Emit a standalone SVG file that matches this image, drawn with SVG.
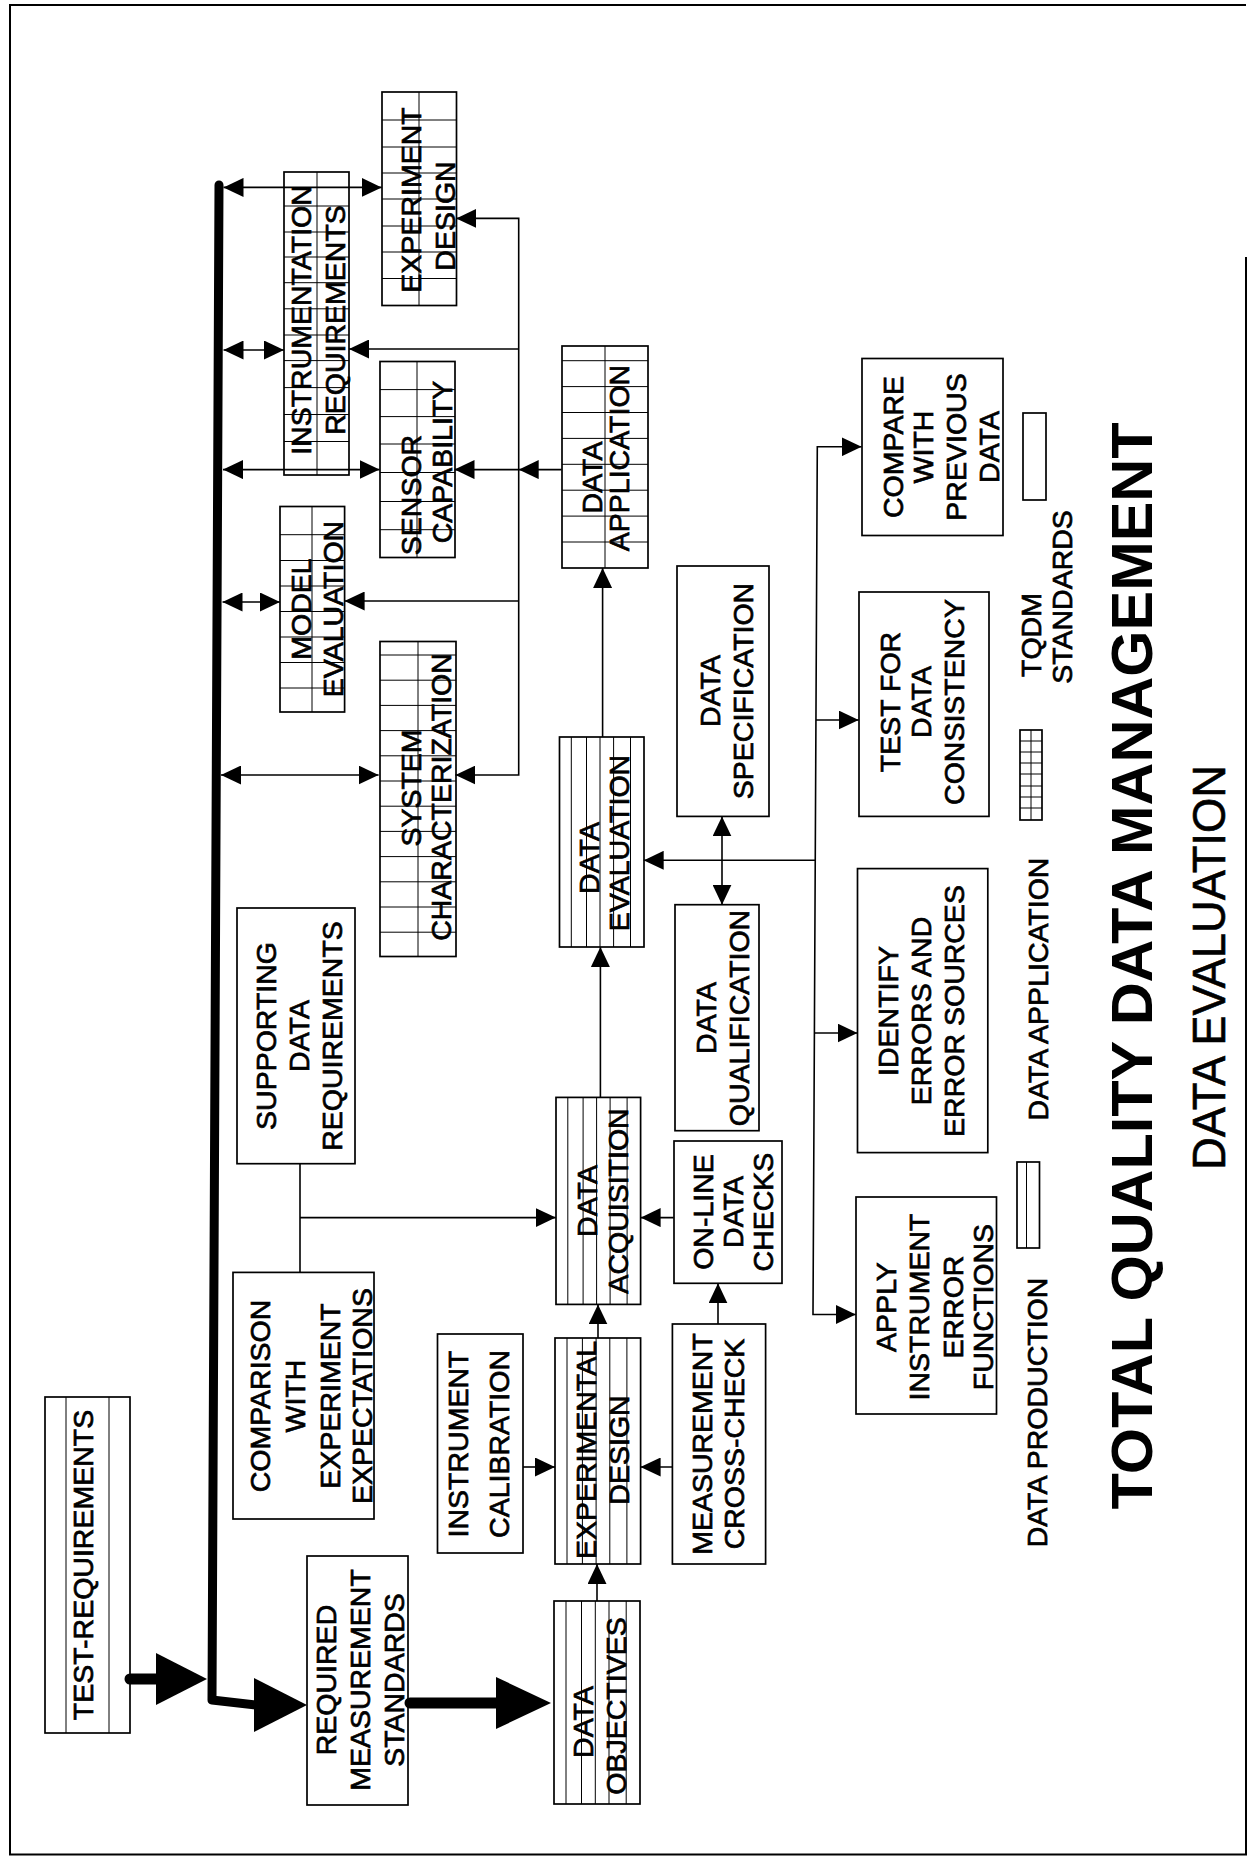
<svg xmlns="http://www.w3.org/2000/svg" width="1249" height="1860" viewBox="0 0 1249 1860">
  <style>
    .box { fill: none; stroke: #000; stroke-width: 1.7; }
    .cell { fill: none; stroke: #000; stroke-width: 1; }
    .ln { fill: none; stroke: #000; stroke-width: 1.6; }
    .thick { fill: none; stroke: #000; stroke-width: 11; stroke-linecap: round; stroke-linejoin: round; }
    .head { fill: #000; stroke: none; }
    .lbl { font-family: "Liberation Sans", Arial, Helvetica, sans-serif; font-size: 28.5px; fill: #000; stroke: #000; stroke-width: 0.7; text-anchor: middle; }
    .title { font-family: "Liberation Sans", Arial, Helvetica, sans-serif; font-weight: bold; font-size: 58px; fill: #000; text-anchor: middle; }
    .sub { font-family: "Liberation Sans", Arial, Helvetica, sans-serif; font-size: 46px; fill: #000; stroke: #000; stroke-width: 0.6; text-anchor: middle; }
  </style>
  <defs>
    <marker id="ah" viewBox="0 0 20 19" refX="20" refY="9.5" markerWidth="20" markerHeight="19" markerUnits="userSpaceOnUse" orient="auto-start-reverse">
      <path d="M0,0 L20,9.5 L0,19 z" fill="#000"/>
    </marker>
  </defs>

  <rect x="0" y="0" width="1249" height="1860" fill="#fff"/>
  <!-- page frame (right edge starts below the top corner) -->
  <path d="M1246,257 V1854.5 H10 V5 H1246" fill="none" stroke="#000" stroke-width="2"/>

  <!-- connectors -->
  <g id="connectors">
    <!-- main requirements bus -->
    <path class="thick" d="M219,185 L212,1700 L256,1705" style="stroke-width:9"/>
    <polygon class="head" points="254,1678 307,1705 254,1732"/>
    <!-- test requirements into bus -->
    <path class="thick" d="M130,1679 H158"/>
    <polygon class="head" points="156,1653 207,1679 156,1705"/>
    <!-- standards to data objectives -->
    <path class="thick" d="M410,1703 H498"/>
    <polygon class="head" points="496,1677 551,1703 496,1729"/>

    <!-- bus to application boxes -->
    <path class="ln" d="M223.5,187.4 H381.7" marker-start="url(#ah)" marker-end="url(#ah)"/>
    <path class="ln" d="M223.5,350 H284" marker-start="url(#ah)" marker-end="url(#ah)"/>
    <path class="ln" d="M223,469.6 H379.5" marker-start="url(#ah)" marker-end="url(#ah)"/>
    <path class="ln" d="M222.5,602 H280" marker-start="url(#ah)" marker-end="url(#ah)"/>
    <path class="ln" d="M221,775 H378.6" marker-start="url(#ah)" marker-end="url(#ah)"/>

    <!-- feedback from data application -->
    <path class="ln" d="M456.2,218.4 H518.7 V775 H455.4" marker-start="url(#ah)" marker-end="url(#ah)"/>
    <path class="ln" d="M518.7,349 H349" marker-end="url(#ah)"/>
    <path class="ln" d="M518.7,469.6 H454.5" marker-end="url(#ah)"/>
    <path class="ln" d="M561.6,469.6 H518.7" marker-end="url(#ah)"/>
    <path class="ln" d="M518.7,601 H344.6" marker-end="url(#ah)"/>

    <!-- production chain -->
    <path class="ln" d="M602.6,737 V568" marker-end="url(#ah)"/>
    <path class="ln" d="M600.4,1097.4 V947" marker-end="url(#ah)"/>
    <path class="ln" d="M598,1338 V1304.4" marker-end="url(#ah)"/>
    <path class="ln" d="M597,1601 V1564" marker-end="url(#ah)"/>
    <path class="ln" d="M523,1467 H555" marker-end="url(#ah)"/>
    <path class="ln" d="M672.4,1467 H640.6" marker-end="url(#ah)"/>
    <path class="ln" d="M718,1324 V1283.3" marker-end="url(#ah)"/>
    <path class="ln" d="M673.7,1217.6 H640.6" marker-end="url(#ah)"/>
    <path class="ln" d="M300,1163.7 V1272.4"/>
    <path class="ln" d="M300,1217.6 H555.8" marker-end="url(#ah)"/>

    <!-- evaluation branch -->
    <path class="ln" d="M722,816.4 V904.7" marker-start="url(#ah)" marker-end="url(#ah)"/>
    <path class="ln" d="M815.5,860.3 H643.7" marker-end="url(#ah)"/>
    <path class="ln" d="M861.6,446.8 H817.3 L813,1314.5 H855.8" marker-start="url(#ah)" marker-end="url(#ah)"/>
    <path class="ln" d="M816,720 H858.7" marker-end="url(#ah)"/>
    <path class="ln" d="M814.5,1033 H857.5" marker-end="url(#ah)"/>
  </g>

  <!-- data production boxes -->
  <g id="test-requirements">
    <rect class="box" x="45" y="1397" width="85" height="336"/>
    <path class="cell" d="M66,1397 V1733 M109,1397 V1733"/>
    <text class="lbl" transform="translate(83,1565) rotate(-90)" y="10.2">TEST-REQUIREMENTS</text>
  </g>

  <g id="data-objectives">
    <rect class="box" x="554" y="1601" width="86" height="203"/>
    <path class="cell" d="M566,1601 V1804 M581.5,1601 V1804 M595.3,1601 V1804 M609,1601 V1804 M626.2,1601 V1804"/>
    <text class="lbl" transform="translate(597,1704) rotate(-90)"><tspan x="-18" y="-3.8">DATA</tspan><tspan x="-2" y="29.2">OBJECTIVES</tspan></text>
  </g>

  <g id="experimental-design">
    <rect class="box" x="555" y="1338" width="85.6" height="226"/>
    <path class="cell" d="M567,1338 V1564 M582.4,1338 V1564 M596.1,1338 V1564 M609.8,1338 V1564 M626.9,1338 V1564"/>
    <text class="lbl" transform="translate(598,1450) rotate(-90)"><tspan x="0" y="-2.1">EXPERIMENTAL</tspan><tspan x="0" y="31.2">DESIGN</tspan></text>
  </g>

  <g id="data-acquisition">
    <rect class="box" x="556" y="1097.4" width="84.6" height="207"/>
    <path class="cell" d="M567.8,1097.4 V1304.4 M583.1,1097.4 V1304.4 M596.6,1097.4 V1304.4 M610.1,1097.4 V1304.4 M627.1,1097.4 V1304.4"/>
    <text class="lbl" transform="translate(598,1201) rotate(-90)"><tspan x="0" y="-0.8">DATA</tspan><tspan x="0" y="30.2">ACQUISITION</tspan></text>
  </g>

  <g id="data-evaluation">
    <rect class="box" x="559.5" y="737" width="84.5" height="210"/>
    <path class="cell" d="M571.3,737 V947 M586.5,737 V947 M600,737 V947 M613.6,737 V947 M630.5,737 V947"/>
    <text class="lbl" transform="translate(601,843) rotate(-90)"><tspan x="-15" y="-1.8">DATA</tspan><tspan x="0" y="27.7">EVALUATION</tspan></text>
  </g>

  <!-- data application boxes -->
  <g id="experiment-design">
    <rect class="box" x="382" y="92" width="74.5" height="213.5"/>
    <path class="cell" d="M382,120 H456.5 M382,147 H456.5 M382,173 H456.5 M382,199 H456.5 M382,226 H456.5 M382,252 H456.5 M382,278.5 H456.5 M419,92 V305.5"/>
    <text class="lbl" transform="translate(428,200) rotate(-90)"><tspan x="0" y="-7.1">EXPERIMENT</tspan><tspan x="-16" y="27.2">DESIGN</tspan></text>
  </g>

  <g id="instrumentation-requirements">
    <rect class="box" x="284" y="172" width="65" height="303"/>
    <path class="cell" d="M284,206 H349 M284,232 H349 M284,257 H349 M284,282.7 H349 M284,308.8 H349 M284,335 H349 M284,360.6 H349 M284,387.6 H349 M284,414.5 H349 M284,441.5 H349 M317,172 V475"/>
    <text class="lbl" transform="translate(318,320) rotate(-90)"><tspan x="0" y="-6.8">INSTRUMENTATION</tspan><tspan x="0" y="27.2">REQUIREMENTS</tspan></text>
  </g>

  <g id="sensor-capability">
    <rect class="box" x="380" y="361.5" width="75" height="196"/>
    <path class="cell" d="M380,389.6 H455 M380,416.6 H455 M380,444 H455 M380,472.5 H455 M380,501.5 H455 M380,529.7 H455 M417,361.5 V557.5"/>
    <text class="lbl" transform="translate(418,460) rotate(-90)"><tspan x="-35" y="3">SENSOR</tspan><tspan x="-2" y="34.2">CAPABILITY</tspan></text>
  </g>

  <g id="model-evaluation">
    <rect class="box" x="280" y="506.5" width="64.6" height="205.5"/>
    <path class="cell" d="M280,534.7 H344.6 M280,560.5 H344.6 M280,586 H344.6 M280,611.5 H344.6 M280,637 H344.6 M280,662.5 H344.6 M280,688 H344.6 M312,506.5 V712"/>
    <text class="lbl" transform="translate(312,609) rotate(-90)"><tspan x="0" y="-0.8">MODEL</tspan><tspan x="0" y="30.8">EVALUATION</tspan></text>
  </g>

  <g id="system-characterization">
    <rect class="box" x="380" y="641.5" width="76" height="315"/>
    <path class="cell" d="M380,655 H456 M380,680.2 H456 M380,705.4 H456 M380,730.6 H456 M380,755.8 H456 M380,781 H456 M380,806.2 H456 M380,831.4 H456 M380,856.6 H456 M380,881.8 H456 M380,907 H456 M380,932.2 H456 M418,641.5 V956.5"/>
    <text class="lbl" transform="translate(418,797) rotate(-90)"><tspan x="9" y="3.2">SYSTEM</tspan><tspan x="0" y="33.2">CHARACTERIZATION</tspan></text>
  </g>

  <g id="data-application">
    <rect class="box" x="562" y="346" width="86" height="222"/>
    <path class="cell" d="M562,360.7 H648 M562,386.6 H648 M562,412.5 H648 M562,438.4 H648 M562,464.3 H648 M562,490.2 H648 M562,516.1 H648 M562,542 H648 M605,346 V568"/>
    <text class="lbl" transform="translate(605,458) rotate(-90)"><tspan x="-19.5" y="-3.1">DATA</tspan><tspan x="0" y="24.2">APPLICATION</tspan></text>
  </g>

  <!-- standards and supporting activities -->
  <g id="required-measurement-standards">
    <rect class="box" x="307" y="1556" width="101" height="249"/>
    <text class="lbl" transform="translate(360,1680) rotate(-90)"><tspan x="0" y="-23.8">REQUIRED</tspan><tspan x="0" y="10.2">MEASUREMENT</tspan><tspan x="0" y="44.2">STANDARDS</tspan></text>
  </g>

  <g id="comparison-with-expectations">
    <rect class="box" x="233" y="1272.4" width="141" height="246.6"/>
    <text class="lbl" transform="translate(311,1396) rotate(-90)"><tspan x="0" y="-40.8">COMPARISON</tspan><tspan x="0" y="-6.2">WITH</tspan><tspan x="0" y="28.7">EXPERIMENT</tspan><tspan x="0" y="60.8">EXPECTATIONS</tspan></text>
  </g>

  <g id="supporting-data-requirements">
    <rect class="box" x="237" y="908" width="118" height="255.7"/>
    <text class="lbl" transform="translate(299,1036) rotate(-90)"><tspan x="0" y="-23.2">SUPPORTING</tspan><tspan x="0" y="10.2">DATA</tspan><tspan x="0" y="42.9">REQUIREMENTS</tspan></text>
  </g>

  <g id="instrument-calibration">
    <rect class="box" x="437.5" y="1334" width="85.5" height="219"/>
    <text class="lbl" transform="translate(478,1444) rotate(-90)"><tspan x="0" y="-9.8">INSTRUMENT</tspan><tspan x="0" y="31.2">CALIBRATION</tspan></text>
  </g>

  <g id="measurement-cross-check">
    <rect class="box" x="672.4" y="1324" width="93.2" height="240"/>
    <text class="lbl" transform="translate(719,1444) rotate(-90)"><tspan x="0" y="-6.8">MEASUREMENT</tspan><tspan x="0" y="25.2">CROSS-CHECK</tspan></text>
  </g>

  <g id="on-line-data-checks">
    <rect class="box" x="674" y="1141" width="108" height="142.3"/>
    <text class="lbl" transform="translate(728,1212) rotate(-90)"><tspan x="0" y="-14.8">ON-LINE</tspan><tspan x="0" y="15.2">DATA</tspan><tspan x="0" y="45.2">CHECKS</tspan></text>
  </g>

  <g id="data-qualification">
    <rect class="box" x="675" y="904.7" width="84" height="226"/>
    <text class="lbl" transform="translate(717,1018) rotate(-90)"><tspan x="0" y="-0.8">DATA</tspan><tspan x="0" y="31.7">QUALIFICATION</tspan></text>
  </g>

  <g id="data-specification">
    <rect class="box" x="677" y="566" width="92" height="250.4"/>
    <text class="lbl" transform="translate(723,691) rotate(-90)"><tspan x="0" y="-3.1">DATA</tspan><tspan x="0" y="30">SPECIFICATION</tspan></text>
  </g>

  <!-- evaluation activities -->
  <g id="compare-with-previous-data">
    <rect class="box" x="862" y="358.5" width="141" height="177"/>
    <text class="lbl" transform="translate(940,447) rotate(-90)"><tspan x="0" y="-37.2">COMPARE</tspan><tspan x="0" y="-7">WITH</tspan><tspan x="0" y="26.2">PREVIOUS</tspan><tspan x="0" y="59.2">DATA</tspan></text>
  </g>

  <g id="test-for-data-consistency">
    <rect class="box" x="859" y="592" width="130" height="224.4"/>
    <text class="lbl" transform="translate(922,702) rotate(-90)"><tspan x="0" y="-22.1">TEST FOR</tspan><tspan x="0" y="9">DATA</tspan><tspan x="0" y="42.2">CONSISTENCY</tspan></text>
  </g>

  <g id="identify-errors">
    <rect class="box" x="857.5" y="868.6" width="130.3" height="284"/>
    <text class="lbl" transform="translate(921,1011) rotate(-90)"><tspan x="0" y="-23.1">IDENTIFY</tspan><tspan x="0" y="10">ERRORS AND</tspan><tspan x="0" y="43.1">ERROR SOURCES</tspan></text>
  </g>

  <g id="apply-instrument-error-functions">
    <rect class="box" x="856" y="1197" width="140.5" height="217"/>
    <text class="lbl" transform="translate(934,1307) rotate(-90)"><tspan x="0" y="-38.2">APPLY</tspan><tspan x="0" y="-5.1">INSTRUMENT</tspan><tspan x="0" y="28.9">ERROR</tspan><tspan x="0" y="59.1">FUNCTIONS</tspan></text>
  </g>

  <!-- legend -->
  <g id="legend">
    <text class="lbl" transform="translate(1036.5,1412.5) rotate(-90)" y="10.2">DATA PRODUCTION</text>
    <rect class="box" x="1017" y="1162" width="22.5" height="86"/>
    <path class="cell" d="M1026.5,1162 V1248"/>
    <text class="lbl" transform="translate(1037.5,989) rotate(-90)" y="10.2">DATA APPLICATION</text>
    <rect class="box" x="1020" y="730" width="22" height="90"/>
    <path class="cell" d="M1031,730 V820 M1020,741 H1042 M1020,752 H1042 M1020,763 H1042 M1020,774 H1042 M1020,786 H1042 M1020,797 H1042 M1020,808 H1042"/>
    <text class="lbl" transform="translate(1031,635) rotate(-90)" y="10.2">TQDM</text>
    <text class="lbl" transform="translate(1062,597) rotate(-90)" y="10.2">STANDARDS</text>
    <rect class="box" x="1023" y="413" width="23" height="87"/>
  </g>

  <!-- titles -->
  <g id="titles">
    <text class="title" transform="translate(1131.5,966) rotate(-90)" y="20.8" textLength="1087" lengthAdjust="spacingAndGlyphs">TOTAL QUALITY DATA MANAGEMENT</text>
    <text class="sub" transform="translate(1208,967.5) rotate(-90)" y="16.5" textLength="405" lengthAdjust="spacingAndGlyphs">DATA EVALUATION</text>
  </g>
</svg>
